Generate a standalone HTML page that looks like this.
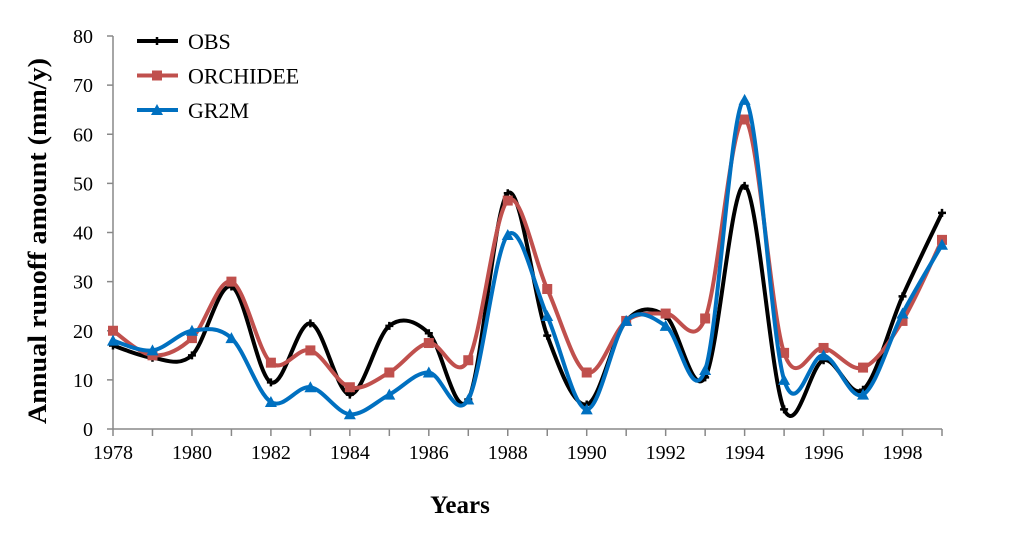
<!DOCTYPE html>
<html><head><meta charset="utf-8"><style>
html,body{margin:0;padding:0;background:#fff;}
svg text{font-family:"Liberation Serif",serif;}
</style></head><body>
<svg id="chart" width="1024" height="549" xmlns="http://www.w3.org/2000/svg">
<g id="axes"></g><g id="series"></g>
<text transform="translate(46,241) rotate(-90)" text-anchor="middle" font-size="26" font-weight="bold" textLength="366" lengthAdjust="spacingAndGlyphs">Annual runoff amount (mm/y)</text>
<text x="460" y="513" text-anchor="middle" font-size="25" font-weight="bold">Years</text>
<g id="legend"></g>
</svg>
<script>
const years=[1978,1979,1980,1981,1982,1983,1984,1985,1986,1987,1988,1989,1990,1991,1992,1993,1994,1995,1996,1997,1998,1999];
const obs=[17,14.5,15,29,9.5,21.5,7,21,19.5,6,48,19,5,22,23,10.5,49.5,4,14,8,27,44];
const orchidee=[20,15,18.5,30,13.5,16,8.5,11.5,17.5,14,46.5,28.5,11.5,22,23.5,22.5,63,15.5,16.5,12.5,22,38.5];
const gr2m=[18,16,20,18.5,5.5,8.5,3,7,11.5,6,39.5,23,4,22,21,12,67,10,15,7,23.5,37.5];
const yTicks=[0,10,20,30,40,50,60,70,80];
const xLabels=[1978,1980,1982,1984,1986,1988,1990,1992,1994,1996,1998];
const NS="http://www.w3.org/2000/svg";
const L=113,R=942,T=36,B=429;
const x=y=>L+(y-1978)*(R-L)/21;
const yv=v=>B-v*(B-T)/80;
function mk(tag,at,par){const e=document.createElementNS(NS,tag);for(const k in at)e.setAttribute(k,at[k]);par.appendChild(e);return e;}
const ax=document.getElementById('axes');
const yl=mk('line',{x1:L,y1:T,x2:L,y2:B,stroke:'#888','stroke-width':1.5},ax);


const xl=mk('line',{x1:L,y1:B,x2:R,y2:B,stroke:'#888','stroke-width':1.5},ax);


yTicks.forEach(t=>{
 mk('line',{x1:L-6,y1:yv(t),x2:L,y2:yv(t),stroke:'#888','stroke-width':1.5},ax);
 const tx=mk('text',{x:L-20,y:yv(t)+7,'text-anchor':'end','font-size':20},ax);tx.textContent=t;
 
 
});
years.forEach(yr=>{mk('line',{x1:x(yr),y1:B,x2:x(yr),y2:B+7,stroke:'#888','stroke-width':1.5},ax);});
xLabels.forEach(yr=>{
 const tx=mk('text',{x:x(yr),y:B+30,'text-anchor':'middle','font-size':20},ax);tx.textContent=yr;
 
 
});
function smooth(pts){let d=`M${pts[0][0]},${pts[0][1]}`;for(let i=0;i<pts.length-1;i++){const p0=pts[i-1]||pts[i],p1=pts[i],p2=pts[i+1],p3=pts[i+2]||p2;const t=1/6;d+=` C${p1[0]+(p2[0]-p0[0])*t},${p1[1]+(p2[1]-p0[1])*t} ${p2[0]-(p3[0]-p1[0])*t},${p2[1]-(p3[1]-p1[1])*t} ${p2[0]},${p2[1]}`;}return d;}
function marker(type,cx,cy,col,par){
 if(type==='sq')return mk('rect',{x:cx-5,y:cy-5,width:10,height:10,fill:col},par);
 if(type==='tri')return mk('path',{d:`M${cx},${cy-6}L${cx+6},${cy+5}L${cx-6},${cy+5}Z`,fill:col},par);
 return mk('path',{d:`M${cx-4},${cy}L${cx+4},${cy}M${cx},${cy-4}L${cx},${cy+4}`,stroke:col,'stroke-width':2.5},par);
}
const defs=[['OBS',obs,'#000','x'],['ORCHIDEE',orchidee,'#c0504d','sq'],['GR2M',gr2m,'#0070c0','tri']];
const sg=document.getElementById('series');
defs.forEach(([n,vals,col,m])=>{
 const g=mk('g',{},sg);
 
 
 const pts=vals.map((v,i)=>[x(years[i]),yv(v)]);
 mk('path',{d:smooth(pts),fill:'none',stroke:col,'stroke-width':4},g);
 pts.forEach(p=>marker(m,p[0],p[1],col,g));
});
const lg=document.getElementById('legend');
defs.forEach(([n,vals,col,m],i)=>{
 const yy=41+i*34.5;
 const g=mk('g',{},lg);
 
 
 mk('line',{x1:137,y1:yy,x2:178,y2:yy,stroke:col,'stroke-width':4},g);
 marker(m,157,yy,col,g);
 const t=mk('text',{x:188,y:yy+8,'font-size':22},g);t.textContent=n;
});
</script>
</body></html>
